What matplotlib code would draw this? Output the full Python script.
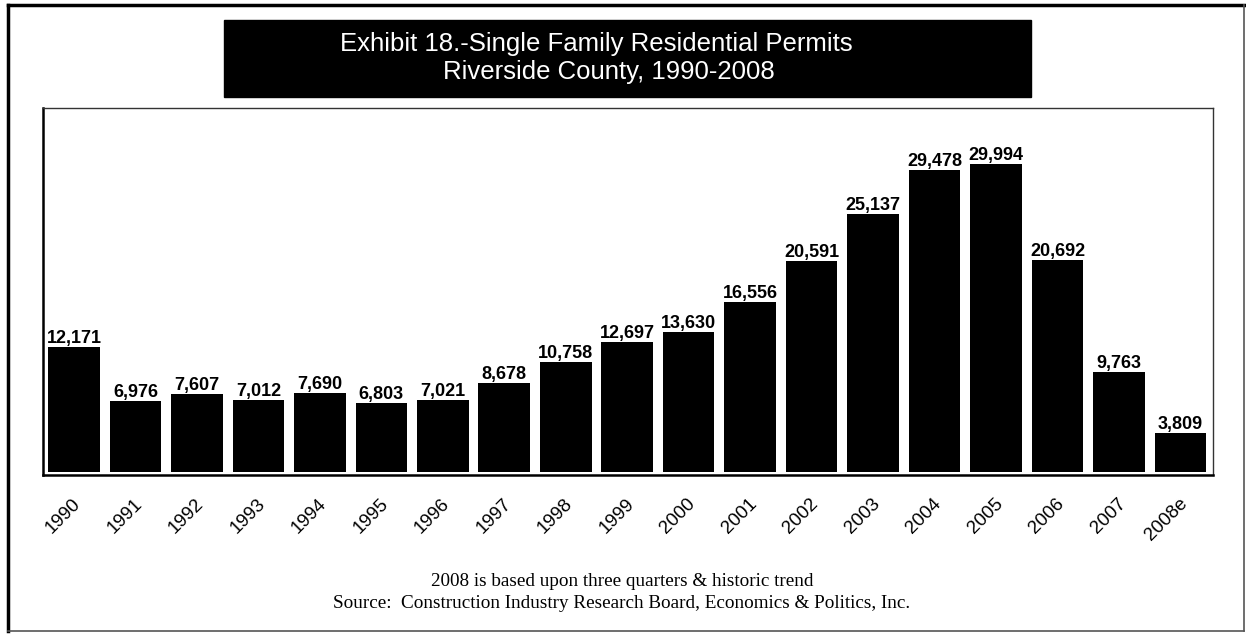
import matplotlib
matplotlib.use("Agg")
import matplotlib.pyplot as plt
from matplotlib.patches import Rectangle
from matplotlib.lines import Line2D
import matplotlib.transforms as mtransforms

years = ["1990", "1991", "1992", "1993", "1994", "1995", "1996", "1997", "1998", "1999",
         "2000", "2001", "2002", "2003", "2004", "2005", "2006", "2007", "2008e"]
permits = [12171, 6976, 7607, 7012, 7690, 6803, 7021, 8678, 10758, 12697,
           13630, 16556, 20591, 25137, 29478, 29994, 20692, 9763, 3809]
title_lines = ["Exhibit 18.-Single Family Residential Permits", "Riverside County, 1990-2008"]
footnotes = ["2008 is based upon three quarters & historic trend",
             "Source:  Construction Industry Research Board, Economics & Politics, Inc."]

W, H = 1246, 634
fig = plt.figure(figsize=(W / 100, H / 100), dpi=100)

def fx(px):
    return px / W

def fy(py):
    return 1 - py / H

# outer border
fig.add_artist(Line2D([fx(8), fx(8)], [fy(5), fy(631)], color="black", lw=2.5))
fig.add_artist(Line2D([fx(8), fx(1244)], [fy(5), fy(5)], color="black", lw=2.5))
fig.add_artist(Line2D([fx(1244), fx(1244)], [fy(5), fy(631)], color="#555555", lw=1.2))
fig.add_artist(Line2D([fx(8), fx(1244)], [fy(631), fy(631)], color="#555555", lw=1.2))

# title box
fig.add_artist(Rectangle((fx(224), fy(97)), fx(1031) - fx(224), fy(20) - fy(97),
                         facecolor="black", edgecolor="black", transform=fig.transFigure))
fig.text(fx(596), fy(51), title_lines[0], color="white", fontsize=18.5,
         family="Liberation Sans", ha="center", va="baseline")
fig.text(fx(608.5), fy(79), title_lines[1], color="white", fontsize=18.5,
         family="Liberation Sans", ha="center", va="baseline")

# plot axes
ax_l, ax_r, ax_t, ax_b = 43.5, 1213, 107.5, 475
ax = fig.add_axes([fx(ax_l), fy(ax_b), fx(ax_r) - fx(ax_l), fy(ax_t) - fy(ax_b)])
x = list(range(len(years)))
ax.bar(x, permits, width=0.84, color="black")
ax.set_xlim(-0.496, 18.53)
ax.set_ylim(-250, 35540)
ax.set_xticks([])
ax.set_yticks([])
for s in ["left", "bottom"]:
    ax.spines[s].set_linewidth(1.8)
for s in ["top", "right"]:
    ax.spines[s].set_linewidth(1.0)
    ax.spines[s].set_color("#333333")

for xi, v in zip(x, permits):
    ax.annotate(f"{v:,}", (xi, v), xytext=(0, 4), textcoords="offset pixels",
                ha="center", va="baseline", fontsize=13, fontweight="bold",
                family="Liberation Sans")

trans = mtransforms.blended_transform_factory(ax.transData, fig.transFigure)
for xi, lab in zip(x, years):
    ax.text(xi + 0.07, fy(501), lab, transform=trans, rotation=45, rotation_mode="anchor",
            ha="right", va="center", fontsize=13.5, family="Liberation Sans")

fig.text(fx(622), fy(582), footnotes[0], fontsize=13.8, family="Liberation Serif",
         ha="center", va="center")
fig.text(fx(622), fy(604), footnotes[1], fontsize=13.8, family="Liberation Serif",
         ha="center", va="center")

fig.savefig("out.png", dpi=100)
